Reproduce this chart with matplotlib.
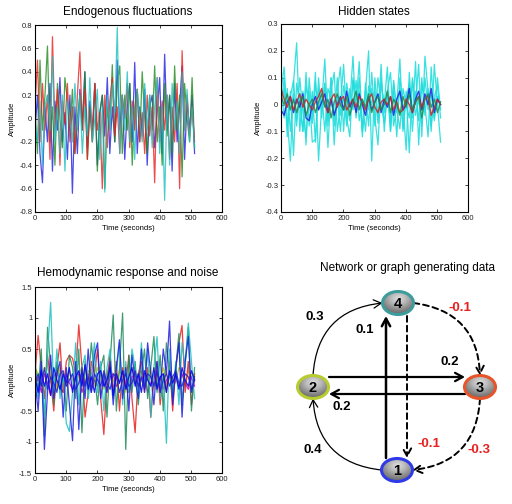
import numpy as np
import matplotlib
matplotlib.use("Agg")
import matplotlib.pyplot as plt
from matplotlib.patches import Ellipse

plt.rcParams['font.family'] = ['Liberation Sans', 'DejaVu Sans']

# ---------------------------
# data
# ---------------------------
endo_red = [0.1, 0.5, -0.2, 0.3, -0.1, 0.2, -0.35, 0.7, -0.1, 0.25, -0.4, 0.15, -0.05, 0.3, -0.2, 0.1,
            -0.3, 0.2, 0.57, -0.1, 0.25, -0.35, 0.1, -0.2, 0.3, -0.1, 0.05, -0.6, 0.2, -0.25, 0.15, 0.35,
            -0.15, 0.1, -0.3, 0.2, 0.0, 0.3, -0.25, 0.15, -0.1, 0.25, -0.2, 0.05, -0.3, 0.2, -0.15, 0.1,
            -0.55, 0.35, -0.2, 0.15, -0.1, 0.2, -0.35, 0.1, -0.2, 0.3, -0.6, 0.58, -0.1, 0.2, -0.15, 0.1, -0.2]
endo_green = [0.05, -0.3, 0.5, -0.1, 0.2, 0.62, -0.2, 0.1, -0.4, 0.3, 0.0, -0.25, 0.35, 0.15, -0.1, 0.25,
              -0.3, 0.0, 0.2, -0.1, 0.4, -0.35, 0.1, -0.2, 0.3, -0.45, 0.05, 0.2, -0.6, 0.1, -0.1, 0.46,
              -0.2, 0.3, 0.45, -0.3, 0.2, -0.1, 0.3, -0.4, 0.1, 0.25, -0.2, 0.4, 0.0, -0.3, 0.2, -0.1,
              0.45, -0.2, 0.1, -0.4, 0.3, -0.15, 0.2, -0.3, 0.45, -0.1, 0.2, -0.5, 0.3, 0.0, -0.2, 0.35, -0.25]
endo_blue = [-0.1, 0.2, -0.3, -0.55, 0.1, -0.2, 0.3, -0.45, 0.15, -0.1, 0.35, -0.2, 0.05, -0.35, 0.2, -0.64,
             0.1, -0.3, 0.25, -0.05, 0.4, -0.25, 0.15, -0.1, 0.3, -0.4, 0.05, 0.2, -0.15, 0.35, -0.3, 0.1,
             -0.2, 0.5, -0.1, 0.2, -0.35, 0.1, 0.3, -0.2, 0.48, -0.3, 0.1, -0.15, 0.25, -0.4, 0.1, 0.2,
             -0.25, 0.05, 0.35, -0.3, 0.55, -0.1, 0.2, -0.45, 0.3, -0.2, 0.1, 0.45, -0.35, 0.15, -0.1, 0.2, -0.3]
endo_cyan = [0.0, -0.2, 0.15, -0.4, 0.1, 0.2, -0.1, 0.53, -0.2, 0.1, -0.3, 0.2, -0.45, 0.15, 0.0, -0.2,
             0.3, -0.1, 0.2, -0.3, 0.1, -0.15, 0.35, -0.2, 0.0, 0.25, -0.35, 0.1, -0.63, 0.2, -0.1, 0.3,
             0.05, 0.78, -0.3, 0.2, -0.1, 0.4, -0.2, 0.1, -0.35, 0.25, 0.0, -0.2, 0.3, -0.1, 0.2, -0.25,
             0.1, 0.35, -0.3, 0.1, -0.7, 0.2, -0.4, 0.3, -0.1, 0.15, -0.3, 0.4, -0.1, 0.25, -0.2, 0.1, -0.25]

hid_cyan1 = [0.05, 0.14, -0.05, -0.21, 0.08, 0.23, -0.1, 0.05, -0.15, 0.1, -0.05, 0.12, -0.21, 0.0, 0.17, -0.08,
             0.1, -0.15, 0.05, 0.14, -0.1, 0.08, 0.0, 0.18, -0.05, 0.1, -0.12, 0.05, 0.2, -0.21, 0.1, -0.05,
             0.15, -0.1, 0.05, 0.12, -0.08, 0.0, 0.17, -0.1, 0.05, -0.18, 0.1, 0.0, 0.15, -0.12, 0.18, 0.05,
             -0.1, 0.15, 0.0, -0.14]
hid_cyan2 = [-0.02, 0.1, -0.12, 0.05, -0.19, 0.08, 0.0, -0.1, 0.12, -0.08, 0.05, -0.14, 0.1, -0.05, 0.08, -0.16,
             0.05, 0.12, -0.1, 0.0, 0.15, -0.05, -0.12, 0.1, 0.0, 0.16, -0.1, 0.05, -0.08, 0.12, -0.05, -0.15,
             0.08, 0.0, 0.14, -0.1, 0.05, -0.12, 0.1, 0.0, -0.17, 0.12, -0.05, 0.16, -0.15, 0.08, 0.0, -0.12,
             0.14, -0.05, 0.1, -0.02]
hid_cyan3 = [0.08, -0.05, 0.06, -0.1, 0.04, -0.08, 0.1, -0.03, -0.12, 0.05, -0.14, -0.13, 0.06, -0.02, 0.08, -0.06,
             0.1, -0.08, 0.03, -0.1, 0.07, 0.0, -0.06, 0.09, -0.04, 0.05, -0.1, 0.08, -0.02, 0.06, -0.08, 0.1,
             0.0, -0.07, 0.05, -0.1, 0.09, -0.03, 0.06, -0.09, 0.02, 0.08, -0.1, 0.05, -0.06, 0.1, -0.04, 0.06,
             -0.08, 0.03, 0.07, -0.05]
hid_cyan4 = [0.0, 0.06, -0.08, 0.03, 0.09, -0.06, 0.04, -0.1, 0.07, 0.0, -0.07, 0.08, -0.02, 0.05, -0.1, 0.06,
             0.02, -0.05, 0.1, -0.04, 0.03, -0.08, 0.06, -0.02, 0.09, -0.06, 0.02, -0.1, 0.07, 0.0, 0.05, -0.07,
             0.1, -0.03, 0.04, -0.06, 0.08, -0.02, -0.09, 0.06, 0.0, -0.05, 0.09, -0.04, 0.02, -0.08, 0.1, -0.02,
             0.04, -0.06, 0.03, 0.0]
hid_blue = [-0.02, -0.04, 0.01, 0.03, -0.03, 0.02, -0.01, 0.04, -0.05, -0.06, 0.0, 0.03, -0.02, 0.01, 0.04, -0.03,
            0.02, -0.04, 0.0, 0.03, -0.02, 0.05, -0.01, 0.02, -0.03, 0.04, 0.0, -0.04, 0.03, -0.02, 0.01, 0.04,
            -0.03, 0.02, -0.01, 0.03, -0.04, 0.02, 0.05, -0.02, 0.0, 0.06, -0.03, 0.02, 0.05, -0.02, 0.04, 0.0,
            0.06, -0.03, 0.02, 0.0]
hid_red = [0.06, 0.02, -0.01, 0.03, -0.02, 0.01, 0.04, -0.01, 0.02, 0.0, -0.02, 0.01, 0.03, 0.06, 0.0, -0.03,
           0.02, 0.04, -0.01, 0.02, 0.03, -0.02, 0.0, 0.02, -0.01, 0.03, 0.01, -0.02, 0.02, 0.04, -0.01, -0.03,
           0.01, 0.02, 0.0, 0.03, -0.02, 0.01, -0.03, -0.02, 0.02, 0.0, -0.03, 0.01, 0.03, -0.01, 0.02, 0.03,
           -0.04, -0.01, 0.02, 0.0]
hid_green = [0.03, 0.0, 0.04, -0.02, 0.02, -0.03, 0.01, 0.03, -0.04, 0.0, 0.02, -0.03, 0.01, 0.04, -0.01, 0.02,
             -0.05, 0.01, 0.04, 0.0, -0.02, 0.03, -0.04, 0.01, 0.05, -0.02, 0.02, -0.01, 0.04, -0.03, 0.01, 0.03,
             -0.02, 0.0, 0.05, -0.03, 0.02, 0.0, -0.04, 0.03, -0.01, 0.04, -0.02, 0.01, 0.03, -0.05, 0.02, 0.04,
             -0.01, 0.02, -0.03, 0.01]

hemo_red = [0.1, 0.72, 0.2, -0.3, 0.4, 0.0, -0.5, 0.2, 0.6, -0.2, 0.3, 0.4, 0.35, 0.1, 0.89, 0.2,
            -0.6, -0.2, 0.3, 0.1, 0.5, -0.3, -0.88, 0.0, 0.4, -0.2, 0.3, -0.5, 0.2, -0.1, 0.4, -0.3,
            -0.85, 0.1, 0.3, -0.2, 0.2, -0.6, 0.0, 0.3, -0.4, 0.1, -0.2, 0.3, -0.5, 0.2, 0.6, 0.88,
            -0.2, 0.3, -0.4, 0.1]
hemo_green = [0.3, -0.2, 0.5, -0.9, 0.85, 0.2, -0.4, 0.3, -0.2, 0.1, -0.5, 0.4, 0.2, -0.3, 0.5, -0.85,
              0.3, -0.1, 0.6, 0.1, -0.4, 0.2, 0.4, -0.6, 0.3, 1.05, -0.5, 0.2, 1.08, -1.12, 0.4, -0.2,
              0.3, -0.4, 0.1, 0.5, -0.3, 0.2, 0.7, -0.2, 0.4, -0.5, 0.6, 0.1, -0.3, 0.2, 0.75, -0.4,
              0.3, 0.85, -0.5, 0.2]
hemo_cyan = [0.1, -0.3, 0.2, -0.6, 0.4, 1.25, -0.2, 0.5, -0.3, 0.1, -0.7, -0.83, -0.2, 0.6, -0.4, 0.2,
             0.4, -0.3, 0.1, 0.6, -0.2, 0.3, -0.5, 0.2, 0.5, -0.3, 0.1, 0.6, -0.4, 0.3, -0.2, 0.5,
             0.2, -0.3, 0.6, -0.1, 0.5, -0.6, 0.2, 0.7, -0.3, 0.1, -1.02, 0.5, -0.2, 0.3, -0.4, 0.6,
             0.2, 0.92, 0.3, -0.3]
hemo_blue = [0.0, -0.5, 0.3, -1.12, -0.2, 0.4, -0.3, 0.1, 0.3, -0.6, 0.2, -0.4, -0.98, 0.3, -0.8, 0.2,
             -0.3, 0.5, -0.2, 0.4, 0.6, -0.3, 0.1, -0.2, 0.3, -0.4, 0.2, 0.65, -0.3, 0.2, -0.5, 0.4,
             0.0, -0.3, 0.5, -0.2, 0.6, 0.1, -0.4, 0.3, -0.2, 0.5, 0.1, 0.95, -0.4, 0.2, 0.6, -0.6,
             0.3, 0.7, -0.2, 0.0]
hemo_yellow = [0.2, 0.1, -0.1, 0.15, 0.25, -0.05, 0.1, -0.15, 0.2, 0.05, -0.1, 0.15, 0.0, -0.2, 0.1, 0.2,
               -0.05, 0.15, 0.1, -0.1, 0.2, 0.05, -0.15, 0.1, 0.25, 0.0, -0.1, 0.15, 0.05, -0.2, 0.1, 0.2,
               -0.05, 0.1, 0.15, -0.1, 0.05, 0.2, -0.15, 0.1, 0.0, 0.2, -0.1, 0.15, 0.05, -0.05, 0.2, 0.1,
               -0.1, 0.15, 0.05, 0.1]
hemo_magenta = [-0.1, 0.05, -0.2, 0.1, -0.05, -0.25, 0.05, 0.15, -0.1, -0.2, 0.1, -0.05, -0.15, 0.05, 0.1, -0.2,
                -0.05, 0.1, -0.15, 0.0, -0.1, 0.15, -0.05, -0.2, 0.05, 0.1, -0.1, -0.05, 0.15, -0.1, -0.2, 0.05,
                0.1, -0.15, 0.0, 0.1, -0.2, -0.05, 0.1, -0.1, 0.05, -0.15, 0.0, 0.1, -0.2, 0.05, -0.1, 0.1,
                -0.05, -0.15, 0.05, -0.1]
hemo_navy1 = [0.05, -0.2, 0.15, -0.1, 0.1, -0.25, 0.2, 0.0, -0.15, 0.1, -0.05, 0.2, -0.2, 0.05, 0.15, -0.1,
              0.25, -0.15, 0.05, -0.2, 0.1, 0.15, -0.1, 0.0, 0.2, -0.25, 0.1, -0.05, 0.15, -0.15, 0.05, 0.2,
              -0.1, 0.1, -0.2, 0.15, 0.0, -0.1, 0.2, -0.15, 0.05, 0.1, -0.2, 0.15, -0.05, 0.1, -0.15, 0.2,
              0.0, -0.1, 0.15, 0.0]
hemo_navy2 = [-0.05, 0.1, -0.1, 0.2, -0.15, 0.05, -0.05, -0.2, 0.1, 0.15, -0.1, 0.0, 0.1, -0.15, -0.05, 0.15,
              -0.1, 0.05, -0.2, 0.1, 0.0, -0.1, 0.15, -0.05, -0.15, 0.1, 0.05, -0.2, 0.0, 0.1, -0.1, -0.05,
              0.15, -0.1, 0.05, -0.15, 0.1, 0.05, -0.1, 0.15, -0.2, 0.0, 0.1, -0.1, 0.05, 0.15, -0.05, -0.1,
              0.1, 0.05, -0.15, 0.05]

# network: node positions in figure pixels, edges (src, dst, weight)
node_names = ['1', '2', '3', '4']
node_x = [397, 313, 480, 398]
node_y = [470, 387, 387, 303]
node_edge = ['#2f3be6', '#b7cc2e', '#e8542a', '#3d9c9c']
edges = [('2', '4', '0.3'), ('1', '2', '0.4'), ('1', '4', '0.1'), ('4', '1', '-0.1'),
         ('2', '3', '0.2'), ('3', '2', '0.2'), ('4', '3', '-0.1'), ('3', '1', '-0.3')]


def style_axes(ax, ylim, yticks):
    ax.set_xlim(0, 600)
    ax.set_ylim(*ylim)
    ax.set_xticks(range(0, 601, 100))
    ax.set_yticks(yticks)
    ax.set_yticklabels(['%g' % v for v in yticks])
    ax.tick_params(direction='in', length=2.5, width=0.6, labelsize=5.5,
                   top=True, right=True, colors='#222222', pad=2)
    for s in ax.spines.values():
        s.set_linewidth(0.8)
    ax.set_xlabel('Time (seconds)', fontsize=5.5, labelpad=2)
    ax.set_ylabel('Amplitude', fontsize=5.5, labelpad=2)


def plot_series(ax, series, color, lw=0.9, alpha=0.8):
    t = np.linspace(0, 512, len(series))
    ax.plot(t, series, color=color, lw=lw, alpha=alpha)


W, H = 512, 504
fig = plt.figure(figsize=(W / 100, H / 100), dpi=100)


def px_axes(x0, y0, x1, y1):
    return fig.add_axes([x0 / W, 1 - y1 / H, (x1 - x0) / W, (y1 - y0) / H])


# Endogenous fluctuations
ax1 = px_axes(35, 25, 222, 212)
for s, c in [(endo_blue, '#1f1fe0'), (endo_green, '#1f8a1f'), (endo_red, '#e81f1f'), (endo_cyan, '#1fbfbf')]:
    plot_series(ax1, s, c)
style_axes(ax1, (-0.8, 0.8), [-0.8, -0.6, -0.4, -0.2, 0, 0.2, 0.4, 0.6, 0.8])
fig.text(128 / W, 1 - 12 / H, 'Endogenous fluctuations', ha='center', va='center', fontsize=8.5)

# Hidden states
ax2 = px_axes(281, 24, 468, 212)
for s in [hid_cyan1, hid_cyan2, hid_cyan3, hid_cyan4]:
    plot_series(ax2, s, '#22dddd', lw=0.9, alpha=0.9)
for s, c in [(hid_blue, '#1f1fe0'), (hid_red, '#d42020'), (hid_green, '#1f8a4f')]:
    plot_series(ax2, s, c, lw=1.0, alpha=0.85)
style_axes(ax2, (-0.4, 0.3), [-0.4, -0.3, -0.2, -0.1, 0, 0.1, 0.2, 0.3])
fig.text(374 / W, 1 - 12 / H, 'Hidden states', ha='center', va='center', fontsize=8.5)

# Hemodynamic response and noise
ax3 = px_axes(35, 287, 222, 473)
for s, c in [(hemo_yellow, '#c8c000'), (hemo_magenta, '#c000c0'), (hemo_red, '#e81f1f'),
             (hemo_green, '#1f8a5a'), (hemo_cyan, '#1fbfbf'), (hemo_blue, '#1f1fe0'),
             (hemo_navy1, '#0000ee'), (hemo_navy2, '#2020d0')]:
    plot_series(ax3, s, c, lw=0.9, alpha=0.85)
style_axes(ax3, (-1.5, 1.5), [-1.5, -1, -0.5, 0, 0.5, 1, 1.5])
fig.text(128 / W, 1 - 273 / H, 'Hemodynamic response and noise', ha='center', va='center', fontsize=8.5)

# Network graph
fig.text(407 / W, 1 - 268 / H, 'Network or graph generating data', ha='center', va='center', fontsize=8.5)
axn = fig.add_axes([0, 0, 1, 1])
axn.set_xlim(0, W)
axn.set_ylim(H, 0)
axn.axis('off')
axn.patch.set_alpha(0)

pos = {n: (x, y) for n, x, y in zip(node_names, node_x, node_y)}
rx, ry = 15.5, 11.5


def anchor(n, side):
    x, y = pos[n]
    off = {'t': (0, -ry), 'b': (0, ry), 'l': (-rx, 0), 'r': (rx, 0)}[side]
    return (x + off[0], y + off[1])


# straight arrows
arrow_kw = dict(arrowstyle='->,head_length=0.55,head_width=0.3', shrinkA=0, shrinkB=0)
axn.annotate('', xy=(386, 316), xytext=(386, 458),
             arrowprops=dict(lw=1.8, color='black', **arrow_kw))
axn.annotate('', xy=(407, 458), xytext=(407, 316),
             arrowprops=dict(lw=1.4, ls=(0, (3, 2)), color='black', **arrow_kw))
axn.annotate('', xy=(465, 377), xytext=(329, 377),
             arrowprops=dict(lw=1.6, color='black', **arrow_kw))
axn.annotate('', xy=(329, 394), xytext=(465, 394),
             arrowprops=dict(lw=1.6, color='black', **arrow_kw))

# curved arrows (quarter circles)
axn.annotate('', xy=anchor('4', 'l'), xytext=anchor('2', 't'),
             arrowprops=dict(lw=0.9, color='black', connectionstyle='arc3,rad=-0.42', **arrow_kw))
axn.annotate('', xy=anchor('2', 'b'), xytext=anchor('1', 'l'),
             arrowprops=dict(lw=0.9, color='black', connectionstyle='arc3,rad=-0.42', **arrow_kw))
axn.annotate('', xy=anchor('3', 't'), xytext=anchor('4', 'r'),
             arrowprops=dict(lw=1.4, ls=(0, (3, 2)), color='black', connectionstyle='arc3,rad=-0.42', **arrow_kw))
axn.annotate('', xy=anchor('1', 'r'), xytext=anchor('3', 'b'),
             arrowprops=dict(lw=1.4, ls=(0, (3, 2)), color='black', connectionstyle='arc3,rad=-0.42', **arrow_kw))

# nodes with light grey gradient fill
yy, xx = np.mgrid[-1:1:64j, -1:1:64j]
grad = np.sqrt(xx ** 2 + (yy + 0.35) ** 2)
for n, ec in zip(node_names, node_edge):
    x, y = pos[n]
    e = Ellipse((x, y), 2 * rx, 2 * ry, facecolor='none', edgecolor='none')
    axn.add_patch(e)
    im = axn.imshow(grad, cmap='Greys', vmin=-0.7, vmax=2.4, extent=(x - rx, x + rx, y + ry, y - ry),
                    zorder=3, interpolation='bilinear')
    im.set_clip_path(e)
    axn.add_patch(Ellipse((x, y), 2 * rx, 2 * ry, facecolor='none', edgecolor=ec, lw=2.2, zorder=4))
    axn.text(x, y + 1, n, ha='center', va='center', fontsize=10.5, fontweight='bold', zorder=5)
axn.set_xlim(0, W)
axn.set_ylim(H, 0)
axn.set_aspect('auto')

# edge weights
label_pos = {('2', '4'): (315, 317), ('1', '2'): (313, 450), ('1', '4'): (365, 330), ('4', '1'): (429, 444),
             ('2', '3'): (450, 362), ('3', '2'): (342, 407), ('4', '3'): (460, 308), ('3', '1'): (479, 450)}
for src, dst, w in edges:
    lx, ly = label_pos[(src, dst)]
    col = '#e82020' if w.startswith('-') else 'black'
    axn.text(lx, ly, w, ha='center', va='center', fontsize=9.5, fontweight='bold', color=col)

fig.savefig('out.png', dpi=100)
